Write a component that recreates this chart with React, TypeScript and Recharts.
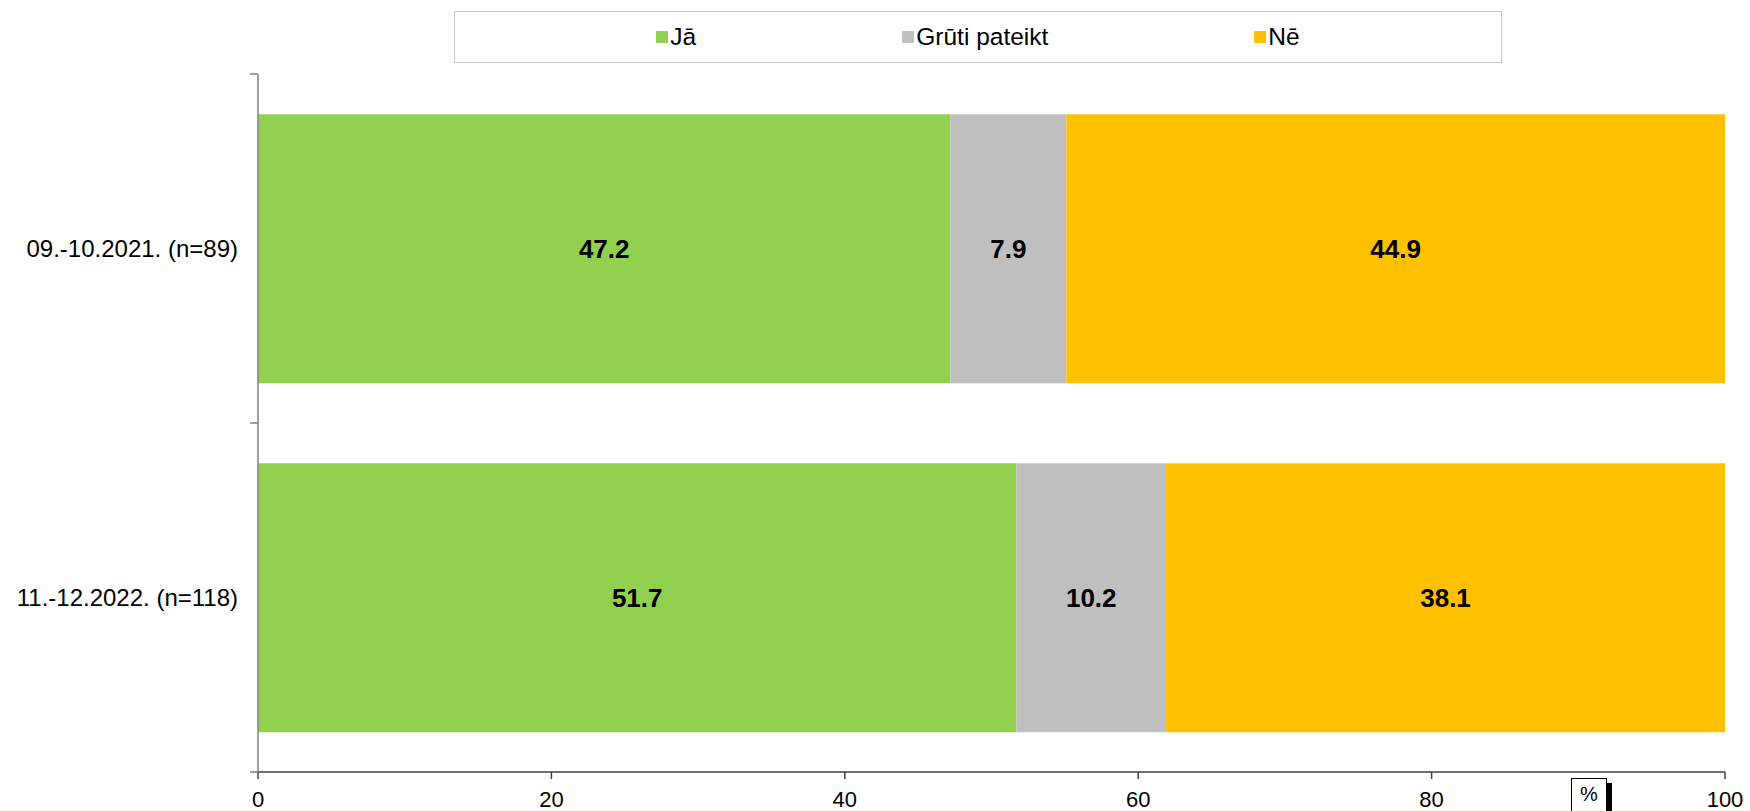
import React from "react";
import { BarChart, Bar, XAxis, YAxis, LabelList } from "recharts";

const periods = ["09.-10.2021. (n=89)", "11.-12.2022. (n=118)"];
const seriesNames = ["Jā", "Grūti pateikt", "Nē"];
const jaValues = [47.2, 51.7];
const grutiValues = [7.9, 10.2];
const neValues = [44.9, 38.1];
const xTicks = [0, 20, 40, 60, 80, 100];

const seriesKeys = ["ja", "gruti", "ne"];
const seriesColors = ["#92D050", "#BFBFBF", "#FFC000"];

const data = periods.map((period, i) => ({
  period,
  ja: jaValues[i],
  gruti: grutiValues[i],
  ne: neValues[i],
}));

const FONT = "'Liberation Sans', Arial, sans-serif";
const W = 1750;
const H = 811;
const TOP = 74;
const X_AXIS_H = 39;
const Y_AXIS_W = 258;
const TICK_SIZE = 8;
const TICK_MARGIN = 12;
const halfBand = (H - TOP - X_AXIS_H) / periods.length / 2;

function PeriodTick(props: any) {
  const { x, y, payload, index } = props;
  const axisX = x + TICK_SIZE + TICK_MARGIN;
  const stroke = "#7f7f7f";
  return (
    <g>
      {index === 0 && (
        <line x1={axisX - TICK_SIZE} x2={axisX} y1={y - halfBand} y2={y - halfBand} stroke={stroke} strokeWidth={1.5} />
      )}
      <line x1={axisX - TICK_SIZE} x2={axisX} y1={y + halfBand} y2={y + halfBand} stroke={stroke} strokeWidth={1.5} />
      <text x={x} y={y} textAnchor="end" dominantBaseline="central" fontSize={24} fontFamily={FONT} fill="#000">
        {payload.value}
      </text>
    </g>
  );
}

function LegendBox() {
  return (
    <div
      style={{
        position: "absolute",
        left: 454,
        top: 11,
        width: 1048,
        height: 52,
        border: "1.5px solid #c8c8c8",
        boxSizing: "border-box",
        display: "flex",
        alignItems: "center",
        justifyContent: "center",
        gap: 206,
        fontFamily: FONT,
        fontSize: 24.5,
        background: "#fff",
      }}
    >
      {seriesNames.map((name, i) => (
        <div key={name} style={{ display: "flex", alignItems: "center" }}>
          <span style={{ width: 12, height: 12, background: seriesColors[i], display: "inline-block", marginRight: 2 }} />
          <span>{name}</span>
        </div>
      ))}
    </div>
  );
}

export default function App() {
  return (
    <div style={{ position: "absolute", left: 0, top: 0, width: W, height: H, background: "#fff", overflow: "hidden" }}>
      <BarChart
        width={W}
        height={H}
        data={data}
        layout="vertical"
        margin={{ top: TOP, right: 25, bottom: 0, left: 0 }}
        barCategoryGap="11.5%"
      >
        <XAxis
          type="number"
          domain={[0, 100]}
          ticks={xTicks}
          height={X_AXIS_H}
          tickSize={7}
          tickMargin={12}
          axisLine={{ stroke: "#404040", strokeWidth: 1.5 }}
          tickLine={{ stroke: "#404040", strokeWidth: 1.5 }}
          tick={{ fontSize: 22, fontFamily: FONT, fill: "#000" }}
        />
        <YAxis
          type="category"
          dataKey="period"
          width={Y_AXIS_W}
          tickSize={TICK_SIZE}
          tickMargin={TICK_MARGIN}
          tickLine={false}
          axisLine={{ stroke: "#7f7f7f", strokeWidth: 1.5 }}
          tick={<PeriodTick />}
        />
        {seriesKeys.map((key, i) => (
          <Bar key={key} dataKey={key} name={seriesNames[i]} stackId="a" fill={seriesColors[i]} isAnimationActive={false}>
            <LabelList
              dataKey={key}
              position="center"
              formatter={(v: any) => Number(v).toFixed(1)}
              style={{ fontSize: 26, fontWeight: "bold", fontFamily: FONT, fill: "#000" }}
            />
          </Bar>
        ))}
      </BarChart>
      <LegendBox />
      <div
        style={{
          position: "absolute",
          left: 1571,
          top: 778,
          width: 36,
          height: 40,
          border: "1px solid #000",
          boxSizing: "border-box",
          boxShadow: "5px 5px 0 #000",
          background: "#fff",
          fontFamily: FONT,
          fontSize: 20,
          textAlign: "center",
          lineHeight: "30px",
        }}
      >
        %
      </div>
    </div>
  );
}
